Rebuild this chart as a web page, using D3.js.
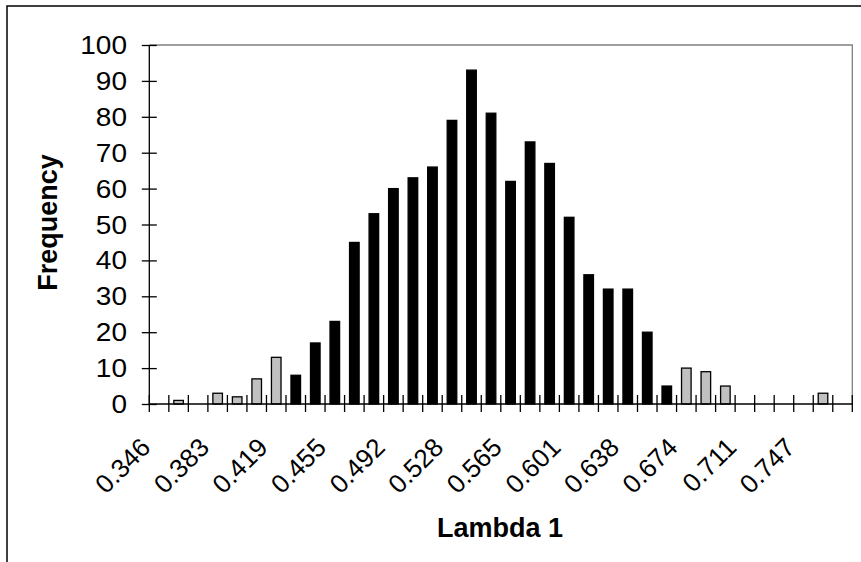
<!DOCTYPE html>
<html><head><meta charset="utf-8">
<script src="https://cdn.jsdelivr.net/npm/d3@7"></script>
<style>
html,body{margin:0;padding:0;background:#fff;}
svg{display:block;}
text{font-family:"Liberation Sans",Arial,sans-serif;fill:#000;}
</style></head>
<body>
<svg id="chart" width="861" height="562"></svg>
<script>
// ---- data ----
const categories = ["0.346","0.358","0.370","0.383","0.395","0.407","0.419","0.431","0.443","0.455","0.468","0.480","0.492","0.504","0.516","0.528","0.540","0.553","0.565","0.577","0.589","0.601","0.613","0.626","0.638","0.650","0.662","0.674","0.686","0.698","0.711","0.723","0.735","0.747","0.759","0.771"];
const frequency = [0,1,0,3,2,7,13,8,17,23,45,53,60,63,66,79,93,81,62,73,67,52,36,32,32,20,5,10,9,5,0,0,0,0,3,0];
// "tail" = grey bars, "core" = black bars
const group = ["tail","tail","tail","tail","tail","tail","tail","core","core","core","core","core","core","core","core","core","core","core","core","core","core","core","core","core","core","core","core","tail","tail","tail","tail","tail","tail","tail","tail","tail"];
const labelEvery = 3;
const yTicks = [0,10,20,30,40,50,60,70,80,90,100];
const xTitle = "Lambda 1";
const yTitle = "Frequency";

// ---- layout ----
const svg = d3.select("#chart");
const pLeft = 149.3, pRight = 852.3, pTop = 45, pBottom = 404;

const x = d3.scaleBand().domain(categories).range([pLeft, pRight]).paddingInner(0.51).paddingOuter(0.255);
const y = d3.scaleLinear().domain([0, 100]).range([pBottom, pTop]);

// outer chart frame
svg.append("rect").attr("x", 7).attr("y", 6).attr("width", 900).attr("height", 600)
  .attr("fill", "none").attr("stroke", "#000").attr("stroke-width", 1.5);

// plot area border (top & right)
svg.append("path").attr("d", `M${pLeft},${pTop}H${pRight}V${pBottom}`)
  .attr("fill", "none").attr("stroke", "#808080").attr("stroke-width", 1.3);

// bars
svg.append("g").selectAll("rect").data(categories).join("rect")
  .attr("x", d => x(d))
  .attr("width", x.bandwidth())
  .attr("y", (d, i) => y(frequency[i]))
  .attr("height", (d, i) => y(0) - y(frequency[i]))
  .attr("fill", (d, i) => group[i] === "core" ? "#000" : "#c0c0c0")
  .attr("stroke", "#000")
  .attr("stroke-width", (d, i) => frequency[i] > 0 ? 1.3 : 0);

// y axis
const yAxis = svg.append("g").attr("transform", `translate(${pLeft},0)`)
  .call(d3.axisLeft(y).tickValues(yTicks).tickSize(7).tickFormat(""));
yAxis.select(".domain").attr("stroke", "#000").attr("stroke-width", 1.3).attr("d", `M0,${pBottom}V${pTop}`);
yAxis.selectAll(".tick line").attr("x1", -7.5).attr("x2", 7.5).attr("stroke", "#000").attr("stroke-width", 1.3);
svg.append("g").selectAll("text").data(yTicks).join("text")
  .attr("transform", d => `translate(127,${y(d)}) scale(1.12,1)`)
  .attr("text-anchor", "end").attr("dy", "0.36em")
  .style("font-size", "25px")
  .text(d => d);

// x axis
svg.append("path").attr("d", `M${pLeft},${pBottom}H${pRight}`).attr("stroke", "#000").attr("stroke-width", 1.3);
const boundaries = d3.range(categories.length + 1).map(i => x.range()[0] + i * x.step());
svg.append("g").selectAll("line").data(boundaries).join("line")
  .attr("x1", d => d).attr("x2", d => d)
  .attr("y1", pBottom - 9).attr("y2", pBottom + 8)
  .attr("stroke", "#000").attr("stroke-width", 1.3);

// x tick labels (every 3rd category)
svg.append("g").selectAll("text").data(categories.filter((d, i) => i % labelEvery === 0)).join("text")
  .attr("transform", d => `translate(${x(d) + x.bandwidth() / 2 - 7},${pBottom + 45}) rotate(-45)`)
  .attr("text-anchor", "end")
  .style("font-size", "26px")
  .text(d => d);

// axis titles
svg.append("text").attr("x", 500).attr("y", 537).attr("text-anchor", "middle")
  .style("font-size", "27px").style("font-weight", "bold").text(xTitle);
svg.append("text").attr("transform", "translate(57,222.5) rotate(-90)").attr("text-anchor", "middle")
  .style("font-size", "27px").style("font-weight", "bold").text(yTitle);
</script>
</body></html>
